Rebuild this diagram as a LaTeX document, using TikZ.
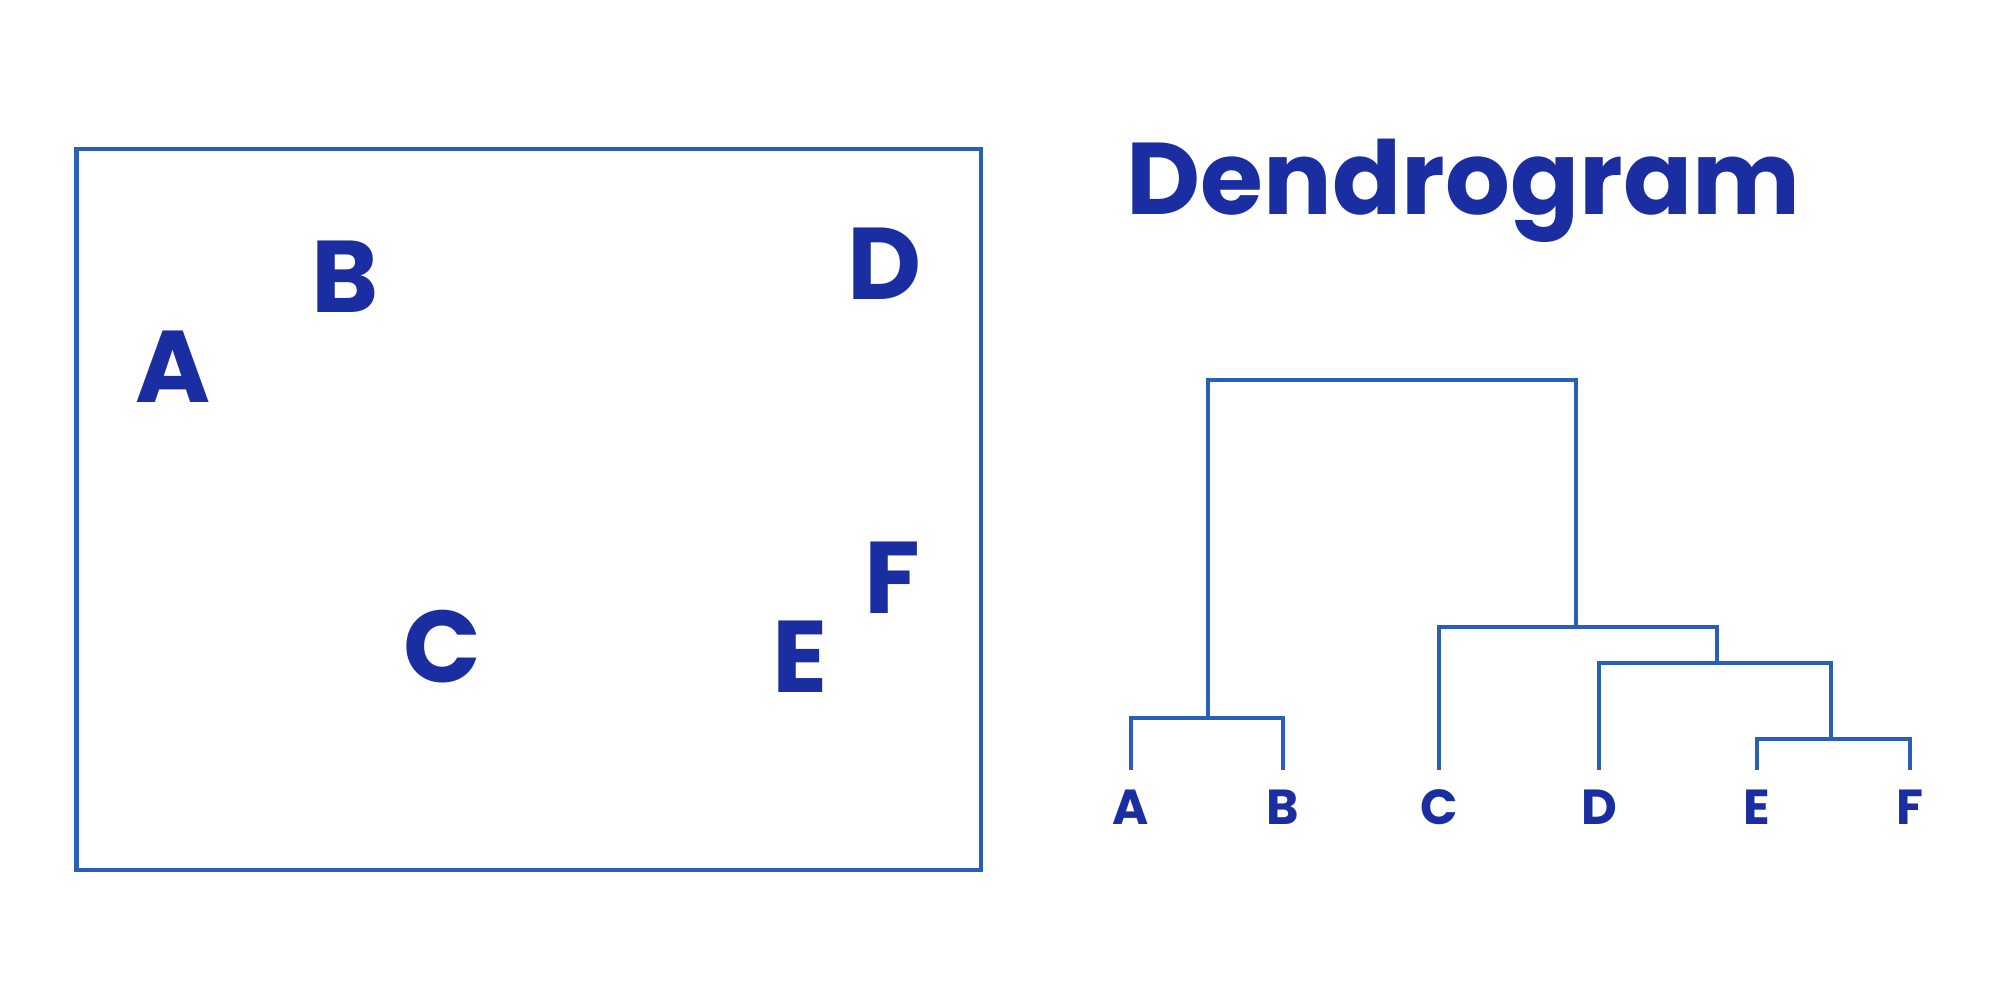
\documentclass[tikz,border=0pt]{standalone}
\usepackage{fontspec}
\setmainfont{Poppins}
\definecolor{textblue}{RGB}{26,46,161}
\definecolor{lineblue}{RGB}{40,96,184}
\begin{document}
\begin{tikzpicture}[
    letter/.style={text=textblue, font=\fontsize{29}{29}\selectfont\bfseries, inner sep=0pt, anchor=base},
    leaf/.style={text=textblue, font=\fontsize{14}{14}\selectfont\bfseries, inner sep=0pt, anchor=base},
    link/.style={draw=lineblue, line width=1.35pt}]
    \useasboundingbox (0,0) rectangle (20,10);

    % Scatter box
    \draw[link] (0.765,1.30) rectangle (9.81,8.51);
    \node[letter] (A) at (1.735,5.97) {A};
    \node[letter] (B) at (3.45,6.87) {B};
    \node[letter] (C) at (4.42,3.17) {C};
    \node[letter] (D) at (8.85,7.00) {D};
    \node[letter] (E) at (8.005,3.07) {E};
    \node[letter] (F) at (8.92,3.86) {F};

    % Title
    \node[letter] (title) at (14.635,7.85) {Dendrogram};

    % Leaves
    \node[leaf] (lA) at (11.31,1.75) {A};
    \node[leaf] (lB) at (12.83,1.75) {B};
    \node[leaf] (lC) at (14.39,1.75) {C};
    \node[leaf] (lD) at (15.99,1.75) {D};
    \node[leaf] (lE) at (17.57,1.75) {E};
    \node[leaf] (lF) at (19.10,1.75) {F};
    \coordinate (tA) at (11.31,2.30);
    \coordinate (tB) at (12.83,2.30);
    \coordinate (tC) at (14.39,2.30);
    \coordinate (tD) at (15.99,2.30);
    \coordinate (tE) at (17.57,2.30);
    \coordinate (tF) at (19.10,2.30);

    % Merges
    \coordinate (mAB) at (12.08,2.82);
    \coordinate (mEF) at (18.31,2.61);
    \coordinate (mDEF) at (17.17,3.37);
    \coordinate (mCDEF) at (15.76,3.73);
    \coordinate (root) at (13.92,6.20);

    % Links
    \draw[link] (tA) |- (mAB) -| (tB);
    \draw[link] (tE) |- (mEF) -| (tF);
    \draw[link] (tD) |- (mDEF) -| (mEF);
    \draw[link] (tC) |- (mCDEF) -| (mDEF);
    \draw[link] (mAB) |- (root) -| (mCDEF);
\end{tikzpicture}
\end{document}
